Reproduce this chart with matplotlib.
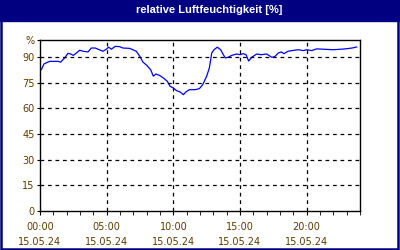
import numpy as np
import matplotlib.pyplot as plt
from matplotlib.patches import Rectangle
from matplotlib.ticker import MultipleLocator

# relative humidity over one day, hours since 00:00
hours = [0.0, 0.1, 0.3, 0.6, 0.75, 1.35, 1.55, 1.72, 1.85, 2.1, 2.3, 2.5,
         2.73, 2.98, 3.23, 3.6, 3.85, 4.15, 4.35, 4.6, 4.72, 4.97, 5.15,
         5.35, 5.65, 5.97, 6.22, 6.72, 6.97, 7.22, 7.48, 7.72, 8.0, 8.3,
         8.5, 8.7, 8.95, 9.25, 9.55, 9.75, 10.0, 10.25, 10.5, 10.75, 10.95,
         11.2, 11.63, 11.95, 12.2, 12.5, 12.7, 12.88, 13.05, 13.3, 13.55,
         13.75, 13.9, 14.12, 14.38, 14.75, 15.0, 15.25, 15.45, 15.65, 15.88,
         16.25, 16.6, 17.0, 17.38, 17.6, 17.87, 18.1, 18.3, 18.6, 18.9,
         19.37, 19.75, 20.0, 20.38, 20.75, 22.0, 22.9, 23.4, 23.75]
humidity = [83.2, 82.6, 86.0, 87.1, 87.5, 87.5, 87.0, 88.5, 89.5, 92.2, 91.8,
            91.0, 92.4, 94.0, 93.4, 93.0, 95.3, 95.3, 94.6, 93.8, 93.4, 94.6,
            95.8, 94.6, 96.3, 96.1, 95.3, 95.1, 94.3, 93.4, 90.5, 87.1, 85.2,
            82.6, 78.8, 80.1, 79.3, 77.8, 75.8, 72.9, 71.9, 70.3, 69.6, 68.0,
            69.6, 70.9, 70.9, 71.5, 73.8, 78.8, 83.6, 92.4, 94.3, 95.8, 94.3,
            91.4, 89.5, 89.9, 91.0, 91.8, 91.4, 92.0, 91.4, 87.7, 89.9, 91.8,
            91.4, 91.8, 89.9, 90.2, 92.4, 93.0, 92.0, 93.4, 93.8, 94.3, 93.8,
            94.3, 93.8, 94.8, 94.3, 94.8, 95.3, 95.9]

y_ticks = [0, 15, 30, 45, 60, 75, 90]
x_ticks = [0, 5, 10, 15, 20]
x_labels = ['00:00\n15.05.24', '05:00\n15.05.24', '10:00\n15.05.24',
            '15:00\n15.05.24', '20:00\n15.05.24']

navy = '#000080'
txt = '#5a3c00'

fig = plt.figure(figsize=(4, 2.5), dpi=100)
ax = fig.add_axes([0.1, 0.157, 0.8, 0.683])

ax.plot(hours, humidity, color='#0000ff', linewidth=0.9)

ax.set_xlim(0, 24)
ax.set_ylim(0, 100)

# y axis: numbers plus the unit on top
ax.set_yticks(y_ticks + [100])
ax.set_yticklabels([str(v) for v in y_ticks] + ['%'])
ax.set_xticks(x_ticks)
ax.set_xticklabels(x_labels, linespacing=1.6)
ax.xaxis.set_minor_locator(MultipleLocator(1))

ax.tick_params(axis='both', labelsize=7, labelcolor=txt, color='black')
ax.tick_params(axis='x', which='major', direction='out', length=3, pad=5)
ax.tick_params(axis='x', which='minor', direction='out', length=3)
ax.tick_params(axis='y', direction='out', length=2, pad=2)

# dashed grid, skipping the frame lines
for v in y_ticks[1:]:
    ax.axhline(v, color='black', linestyle=(0, (3, 3)), linewidth=0.9)
for v in x_ticks[1:]:
    ax.axvline(v, color='black', linestyle=(0, (3, 3)), linewidth=0.9)

for s in ax.spines.values():
    s.set_linewidth(1)
    s.set_color('black')

# title bar and outer frame
fig.patches.append(Rectangle((0, 1 - 21 / 250), 1, 21 / 250,
                             transform=fig.transFigure, color=navy, zorder=0))
fig.patches.append(Rectangle((0.002, 0.004), 0.993, 0.99,
                             transform=fig.transFigure, fill=False,
                             edgecolor=navy, linewidth=1.8, zorder=1))
fig.text(0.522, 1 - 10 / 250, 'relative Luftfeuchtigkeit [%]', color='white',
         fontsize=8, fontweight='bold', family='Liberation Sans',
         ha='center', va='center')

fig.savefig('out.png', dpi=100)
